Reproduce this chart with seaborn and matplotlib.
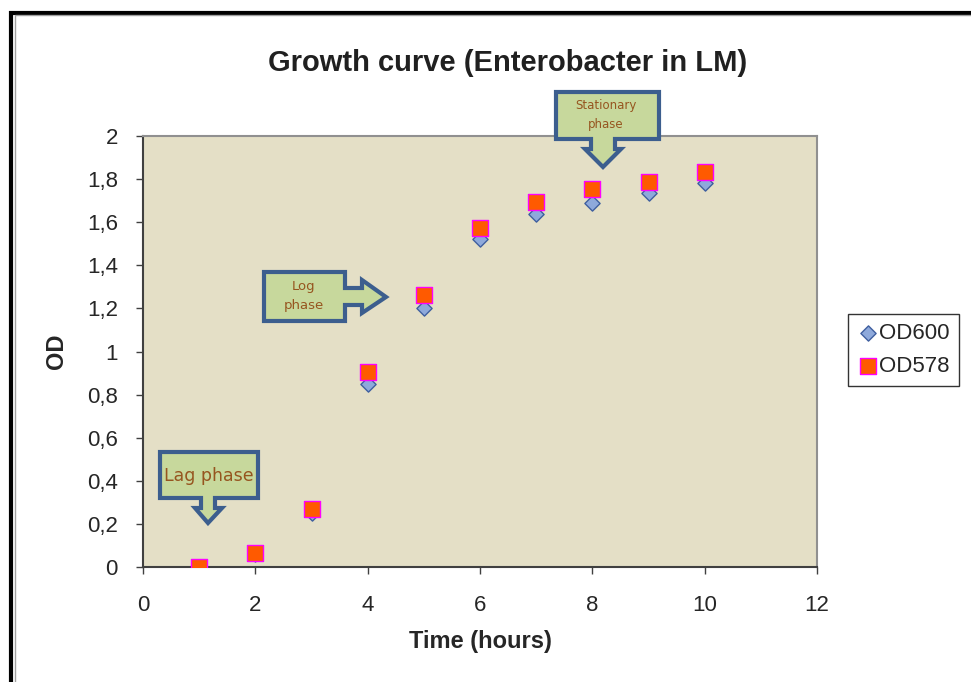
import numpy as np
import pandas as pd
import matplotlib.pyplot as plt
import seaborn as sns
from matplotlib.patches import Polygon, Rectangle
from matplotlib.ticker import FuncFormatter

# values
hours = [1, 2, 3, 4, 5, 6, 7, 8, 9, 10]
od600 = [0.0, 0.06, 0.25, 0.85, 1.20, 1.52, 1.64, 1.69, 1.735, 1.78]
od578 = [0.0, 0.065, 0.27, 0.905, 1.26, 1.575, 1.695, 1.755, 1.787, 1.833]

df = pd.DataFrame({'hours': hours, 'OD600': od600, 'OD578': od578})
long = df.melt(id_vars='hours', var_name='series', value_name='OD')

sns.set_style('white')
plt.rcParams['font.family'] = ['Liberation Sans', 'DejaVu Sans']

W, H = 971, 682
fig = plt.figure(figsize=(W / 100, H / 100), dpi=100)
ax = fig.add_axes([143 / W, 1 - 567 / H, 674 / W, 431 / H])
ax.set_facecolor('#E4DFC6')

# OD600 diamonds, then OD578 squares on top
sns.scatterplot(data=long[long.series == 'OD600'], x='hours', y='OD', ax=ax,
                marker='D', s=60, color='#8EA9DB', edgecolor='#3F5F9F',
                linewidth=1.0, label='OD600', zorder=3)
sns.scatterplot(data=long[long.series == 'OD578'], x='hours', y='OD', ax=ax,
                marker='s', s=120, color='#FF5A00', edgecolor='#FF00FF',
                linewidth=1.0, label='OD578', zorder=4)

ax.set_xlim(0, 12)
ax.set_ylim(0, 2)
ax.set_xticks(range(0, 13, 2))
ax.set_yticks(np.arange(0, 2.01, 0.2))
fmt = FuncFormatter(lambda v, p: ('%g' % round(v, 1)).replace('.', ','))
ax.yaxis.set_major_formatter(fmt)
ax.tick_params(axis='both', direction='out', length=5, width=1, color='#404040',
               labelsize=16, bottom=True, left=True)
ax.tick_params(axis='x', pad=15)
ax.tick_params(axis='y', pad=13)
for side in ['left', 'bottom']:
    ax.spines[side].set_color('#404040')
    ax.spines[side].set_linewidth(1.5)
for side in ['top', 'right']:
    ax.spines[side].set_color('#909090')
    ax.spines[side].set_linewidth(1.5)

ax.set_xlabel('Time (hours)', fontsize=17, fontweight='bold', labelpad=10)
ax.set_ylabel('OD', fontsize=17, fontweight='bold', labelpad=14)
fig.text(508 / W, 1 - 63 / H, 'Growth curve (Enterobacter in LM)',
         ha='center', va='center', fontsize=21, fontweight='semibold', color='#202020')

leg = ax.legend(loc='center left', bbox_to_anchor=(848 / W, 1 - 350 / H),
                bbox_transform=fig.transFigure, frameon=True, fontsize=16,
                handletextpad=0.0, borderpad=0.4, labelspacing=0.55,
                handlelength=1.0, borderaxespad=0, fancybox=False)
leg.get_frame().set_edgecolor('black')
leg.get_frame().set_linewidth(1)


# callout shapes, given in pixel positions of the reference
def fpt(px, py):
    return (px / W, 1 - py / H)


def callout(pts, text, tx, ty, size):
    poly = Polygon([fpt(*p) for p in pts], closed=True, transform=fig.transFigure,
                   facecolor='#C7D89C', edgecolor='#3C5E8E', linewidth=3,
                   joinstyle='miter', zorder=10)
    fig.add_artist(poly)
    fig.text(*fpt(tx, ty), text, ha='center', va='center', fontsize=size,
             color='#96551F', family=['Liberation Sans Narrow', 'DejaVu Sans'],
             linespacing=1.6, zorder=11)


callout([(160, 452), (258, 452), (258, 498), (215, 498), (215, 508), (222, 508),
         (208, 523), (195, 508), (201, 508), (201, 498), (160, 498)],
        'Lag phase', 209, 476, 12.5)
callout([(264, 272), (345, 272), (345, 288), (362, 288), (362, 280), (386, 297),
         (362, 313), (362, 305), (345, 305), (345, 321), (264, 321)],
        'Log\nphase', 304, 296, 9.5)
callout([(556, 92), (659, 92), (659, 139), (615, 139), (615, 149), (621, 149),
         (603, 167), (585, 149), (591, 149), (591, 139), (556, 139)],
        'Stationary\nphase', 606, 115, 8.5)

# outer frame of the pasted chart
fig.add_artist(Rectangle(fpt(10.5, 690), 1.0, (690 - 12.5) / H, transform=fig.transFigure,
                         fill=False, edgecolor='black', linewidth=3))
fig.add_artist(Rectangle(fpt(14.5, 690), 1.0, (690 - 15) / H, transform=fig.transFigure,
                         fill=False, edgecolor='#A0A0A0', linewidth=1))

fig.savefig('out.png', dpi=100, facecolor='white')
